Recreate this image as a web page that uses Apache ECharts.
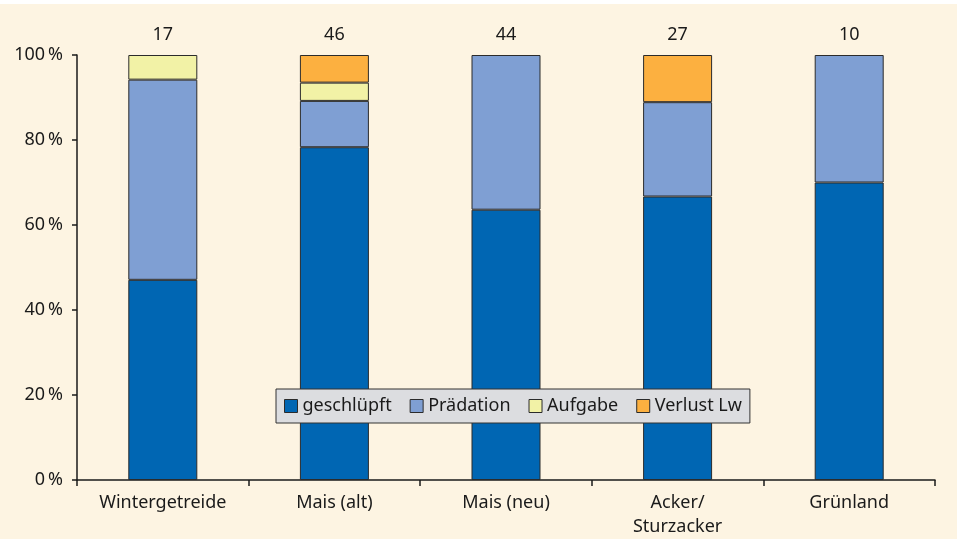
<!DOCTYPE html>
<html>
<head>
<meta charset="utf-8">
<script src="https://cdn.jsdelivr.net/npm/echarts@6/dist/echarts.min.js"></script>
<style>
  html, body { margin: 0; padding: 0; background: #ffffff; }
  #chart { position: absolute; left: 0; top: 4px; width: 957px; height: 535px; }
</style>
</head>
<body>
<div id="chart"></div>
<script>
// categories and sample sizes (n)
var categories = ['Wintergetreide', 'Mais (alt)', 'Mais (neu)', 'Acker/\nSturzacker', 'Grünland'];
var nValues = [17, 46, 44, 27, 10];

// shares in percent
var geschluepft = [47.1, 78.3, 63.6, 66.7, 70.0];
var praedation  = [47.1, 10.9, 36.4, 22.2, 30.0];
var aufgabe     = [5.8, 4.3, 0, 0, 0];
var verlustLw   = [0, 6.5, 0, 11.1, 0];

var font = 'Noto Sans';
var textColor = '#1a1a1a';

var chart = echarts.init(document.getElementById('chart'));

function barSeries(name, data, color) {
    return {
        name: name,
        type: 'bar',
        stack: 'total',
        barWidth: 69,
        // empty segments are left out so no stray border line is drawn
        data: data.map(function (v) { return v === 0 ? '-' : v; }),
        itemStyle: {
            color: color,
            borderColor: '#2b2b2b',
            borderWidth: 1
        }
    };
}

var option = {
    backgroundColor: '#fdf4e2',
    animation: false,
    textStyle: { fontFamily: font, color: textColor },
    grid: { left: 77, right: 22, top: 51, bottom: 57 },
    legend: {
        left: 276,
        top: 385,
        width: 481,
        padding: [8, 8, 8, 8],
        backgroundColor: '#dcdde0',
        borderColor: '#333333',
        borderWidth: 1,
        icon: 'rect',
        itemWidth: 13,
        itemHeight: 13,
        itemGap: 18,
        itemStyle: { borderColor: '#2b2b2b', borderWidth: 1 },
        textStyle: { fontFamily: font, fontSize: 18, color: textColor },
        data: ['geschlüpft', 'Prädation', 'Aufgabe', 'Verlust Lw']
    },
    xAxis: [{
        type: 'category',
        data: categories,
        position: 'bottom',
        axisLine: { lineStyle: { color: '#1a1a1a', width: 1.5 } },
        axisTick: { show: true, length: 6, lineStyle: { color: '#1a1a1a', width: 1.5 } },
        axisLabel: { margin: 11, fontSize: 18, color: textColor, fontFamily: font, lineHeight: 24, interval: 0 }
    }, {
        type: 'category',
        data: nValues,
        position: 'top',
        axisLine: { show: false },
        axisTick: { show: false },
        axisLabel: { margin: 11, fontSize: 18, color: textColor, fontFamily: font, interval: 0 }
    }],
    yAxis: {
        type: 'value',
        min: 0,
        max: 100,
        interval: 20,
        axisLine: { show: true, lineStyle: { color: '#1a1a1a', width: 1.5 } },
        axisTick: { show: true, length: 5, lineStyle: { color: '#1a1a1a', width: 1.5 } },
        splitLine: { show: false },
        axisLabel: {
            margin: 14,
            fontSize: 18,
            color: textColor,
            fontFamily: font,
            padding: [5, 0, 0, 0],
            formatter: '{value}\u2009%'
        }
    },
    series: [
        barSeries('geschlüpft', geschluepft, '#0066b3'),
        barSeries('Prädation', praedation, '#7f9fd3'),
        barSeries('Aufgabe', aufgabe, '#f2f2a6'),
        barSeries('Verlust Lw', verlustLw, '#fcb040')
    ]
};

chart.setOption(option);
</script>
</body>
</html>
